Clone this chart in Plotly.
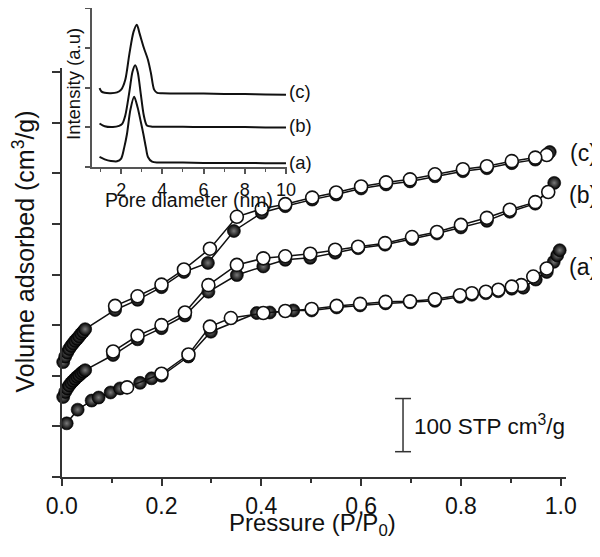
"""
    isotherms.py
    N2 adsorption/desorption isotherms with pore size distribution inset.
"""
import plotly.graph_objs as go

# Isotherm (a)
a_ads_p = [0.010, 0.032, 0.060, 0.074, 0.098, 0.117, 0.157, 0.180, 0.200, 0.254, 0.299, 0.391,
           0.417, 0.464, 0.501, 0.551, 0.598, 0.649, 0.698, 0.748, 0.798, 0.822, 0.850, 0.875,
           0.902, 0.925, 0.950, 0.972, 0.986, 0.993, 0.998]
a_ads_v = [106, 133, 151, 157, 167, 175, 186, 195, 200, 238, 287, 324,
           325, 329, 329, 335, 339, 343, 345, 348, 356, 360, 363, 367,
           372, 374, 390, 405, 425, 438, 448]
a_des_p = [0.972, 0.945, 0.921, 0.902, 0.875, 0.850, 0.822, 0.798, 0.748, 0.698, 0.649, 0.598,
           0.551, 0.501, 0.448, 0.404, 0.339, 0.297, 0.254, 0.200, 0.131]
a_des_v = [412, 396, 379, 376, 370, 366, 363, 359, 351, 347, 346, 342,
           338, 332, 328, 324, 314, 297, 242, 204, 177]

# Isotherm (b)
b_ads_p = [0.003, 0.007, 0.011, 0.015, 0.019, 0.023, 0.027, 0.031, 0.035, 0.039, 0.043, 0.047,
           0.103, 0.152, 0.200, 0.247, 0.294, 0.351, 0.404, 0.448, 0.498, 0.548, 0.594, 0.648,
           0.702, 0.752, 0.800, 0.852, 0.898, 0.949, 0.987]
b_ads_v = [158, 168, 175, 181, 186, 190, 194, 198, 201, 205, 208, 211,
           241, 272, 294, 319, 366, 399, 416, 429, 433, 443, 452, 459,
           470, 481, 493, 506, 524, 540, 581]
b_des_p = [0.975, 0.949, 0.898, 0.852, 0.800, 0.752, 0.702, 0.648, 0.594, 0.548, 0.498, 0.448,
           0.404, 0.351, 0.294, 0.247, 0.200, 0.152, 0.103]
b_des_v = [563, 543, 528, 512, 498, 484, 474, 462, 455, 449, 441, 436,
           432, 419, 379, 325, 300, 279, 248]

# Isotherm (c)
c_ads_p = [0.003, 0.007, 0.011, 0.015, 0.019, 0.023, 0.027, 0.031, 0.035, 0.039, 0.043, 0.047,
           0.107, 0.152, 0.200, 0.245, 0.293, 0.345, 0.401, 0.448, 0.502, 0.550, 0.600, 0.650,
           0.698, 0.748, 0.804, 0.852, 0.902, 0.949, 0.978]
c_ads_v = [227, 238, 246, 253, 259, 264, 269, 273, 278, 283, 287, 292,
           330, 350, 375, 405, 423, 486, 522, 535, 548, 558, 570, 578,
           584, 594, 604, 610, 620, 627, 642]
c_des_p = [0.972, 0.949, 0.902, 0.852, 0.804, 0.748, 0.698, 0.650, 0.600, 0.550, 0.502, 0.448,
           0.401, 0.351, 0.297, 0.245, 0.200, 0.152, 0.107]
c_des_v = [636, 631, 624, 614, 608, 598, 588, 582, 574, 562, 552, 539,
           530, 514, 451, 410, 380, 357, 338]

# Pore size distribution (inset), offset curves
pore_a_x = [0.95, 1.2, 1.5, 1.8, 2.0, 2.15, 2.28, 2.45, 2.63, 2.8, 2.95, 3.08, 3.2, 3.3, 3.5, 3.8, 5, 6, 7, 8, 9, 10]
pore_a_y = [0.26, 0.20, 0.16, 0.15, 0.22, 0.50, 0.83, 1.45, 1.77, 1.50, 1.15, 0.83, 0.50, 0.26, 0.14, 0.12, 0.12, 0.11, 0.11, 0.11, 0.10, 0.10]
pore_b_x = [0.95, 1.2, 1.6, 1.9, 2.05, 2.2, 2.4, 2.55, 2.68, 2.8, 2.95, 3.1, 3.25, 3.5, 4, 5, 6, 7, 8, 9, 10]
pore_b_y = [1.10, 1.03, 1.01, 1.04, 1.09, 1.30, 1.90, 2.40, 2.56, 2.40, 1.85, 1.30, 1.05, 1.02, 1.02, 1.02, 1.01, 1.01, 1.01, 1.00, 1.00]
pore_c_x = [0.95, 1.05, 1.2, 1.5, 1.8, 2.0, 2.2, 2.4, 2.6, 2.76, 2.9, 3.1, 3.3, 3.45, 3.6, 3.75, 4, 5, 6, 7, 8, 9, 10]
pore_c_y = [1.99, 1.90, 1.87, 1.86, 1.88, 1.95, 2.20, 2.85, 3.40, 3.58, 3.35, 3.00, 2.70, 2.35, 1.95, 1.87, 1.86, 1.85, 1.85, 1.84, 1.84, 1.83, 1.82]

# Scale bar (100 STP cm3/g)
bar_p = 0.684
bar_v = [50, 155]

FONT = 'Liberation Sans, Arial, sans-serif'
INK = '#111111'
# the page body keeps an 8px margin, so the figure is drawn 8px smaller and
# every layout position below is given in window pixels, shifted by that margin
OFF = 8
W, H = 600 - OFF, 557 - OFF


def px(x):
    return (x - OFF) / W


def py(y):
    return min(1.0, 1 - (y - OFF) / H)


traces = []
for ads_p, ads_v, des_p, des_v in [(a_ads_p, a_ads_v, a_des_p, a_des_v),
                                   (b_ads_p, b_ads_v, b_des_p, b_des_v),
                                   (c_ads_p, c_ads_v, c_des_p, c_des_v)]:
    # adsorption branch: shaded black spheres
    traces.append(go.Scatter(
        x=ads_p, y=ads_v, mode='lines+markers', cliponaxis=False,
        line=dict(color=INK, width=1.5),
        marker=dict(size=13, color='#000000', gradient=dict(type='radial', color='#7a7a7a'),
                    line=dict(width=0.6, color='#000000')),
        xaxis='x', yaxis='y', showlegend=False))
    # desorption branch: open circles
    traces.append(go.Scatter(
        x=des_p, y=des_v, mode='lines+markers', cliponaxis=False,
        line=dict(color=INK, width=1.5),
        marker=dict(size=13, color='white', line=dict(width=1.6, color=INK)),
        xaxis='x', yaxis='y', showlegend=False))

for xs, ys in [(pore_a_x, pore_a_y), (pore_b_x, pore_b_y), (pore_c_x, pore_c_y)]:
    traces.append(go.Scatter(
        x=xs, y=ys, mode='lines', line=dict(color=INK, width=2, shape='spline', smoothing=0.8),
        xaxis='x2', yaxis='y2', showlegend=False))

fig = go.Figure(data=traces)

shapes = [
    dict(type='line', xref='x', yref='y', x0=bar_p, x1=bar_p, y0=bar_v[0], y1=bar_v[1],
         line=dict(color='#333333', width=1.5)),
    dict(type='line', xref='x', yref='y', x0=bar_p - 0.016, x1=bar_p + 0.016, y0=bar_v[0], y1=bar_v[0],
         line=dict(color='#333333', width=1.5)),
    dict(type='line', xref='x', yref='y', x0=bar_p - 0.016, x1=bar_p + 0.016, y0=bar_v[1], y1=bar_v[1],
         line=dict(color='#333333', width=1.5)),
]


def note(text, x, y, size, angle=0, xanchor='center'):
    return dict(text=text, xref='paper', yref='paper', x=x, y=y, xanchor=xanchor, yanchor='middle',
                textangle=angle, showarrow=False, font=dict(size=size, family=FONT, color=INK))


annotations = [
    note('Pressure (P/P<sub>0</sub>)', px(312), py(524), 24),
    note('Volume adsorbed (cm<sup>3</sup>/g)', px(23.5), py(252), 25, angle=-90),
    note('Intensity (a.u)', px(74), py(84), 18.5, angle=-90),
    note('Pore diameter (nm)', px(189), py(200), 19.5),
    dict(text='100 STP cm<sup>3</sup>/g', xref='x', yref='y', x=bar_p + 0.018,
         y=(bar_v[0] + bar_v[1]) / 2, xanchor='left', yanchor='middle', showarrow=False,
         font=dict(size=22.5, family=FONT, color=INK)),
]
# curve labels on the isotherms and on the inset
for lab, yy in [('(c)', 153), ('(b)', 195), ('(a)', 267)]:
    annotations.append(note(lab, px(583), py(yy), 23))
for lab, yy in [('(c)', 92), ('(b)', 126), ('(a)', 162)]:
    annotations.append(note(lab, px(287), py(yy), 18.5, xanchor='left'))

fig['layout'].update(
    width=W, height=H,
    margin=dict(l=0, r=0, t=0, b=0, pad=0),
    paper_bgcolor='white', plot_bgcolor='rgba(0,0,0,0)',
    font=dict(family=FONT, color=INK),
    xaxis=dict(domain=[px(61.7), px(566)], range=[0, 1.0106], anchor='y', automargin=False,
               tick0=0, dtick=0.2, tickformat='.1f', ticks='outside', ticklen=7, tickwidth=2,
               tickcolor='#333333', minor=dict(dtick=0.1, ticks='outside', ticklen=4, tickwidth=1.5,
                                               tickcolor='#333333'),
               showline=True, linewidth=2, linecolor='#333333', showgrid=False, zeroline=False,
               tickfont=dict(size=23, family=FONT, color=INK)),
    yaxis=dict(domain=[py(477), py(68)], range=[0, 808], anchor='x', automargin=False,
               tick0=0, dtick=100, ticks='outside', ticklen=8, tickwidth=1.5, tickcolor='#333333',
               showticklabels=False, showline=True, linewidth=2, linecolor='#333333',
               showgrid=False, zeroline=False),
    xaxis2=dict(domain=[px(91.7), px(286.6)], range=[0.57, 10.03], anchor='y2', automargin=False,
                tick0=0, dtick=2, ticks='outside', ticklen=5, tickwidth=1.5, tickcolor='#555555',
                minor=dict(dtick=1, ticks='outside', ticklen=3, tickwidth=1, tickcolor='#555555'),
                showline=True, linewidth=1.5, linecolor='#555555', showgrid=False, zeroline=False,
                tickfont=dict(size=18, family=FONT, color=INK)),
    yaxis2=dict(domain=[py(167.3), py(2)], range=[0, 4.0], anchor='x2', automargin=False,
                tick0=0, dtick=1, ticks='outside', ticklen=5, tickwidth=1.5, tickcolor='#555555',
                showticklabels=False, showline=True, linewidth=1.5, linecolor='#555555',
                showgrid=False, zeroline=False),
    shapes=shapes,
    annotations=annotations,
)

fig.write_html("out.html")
